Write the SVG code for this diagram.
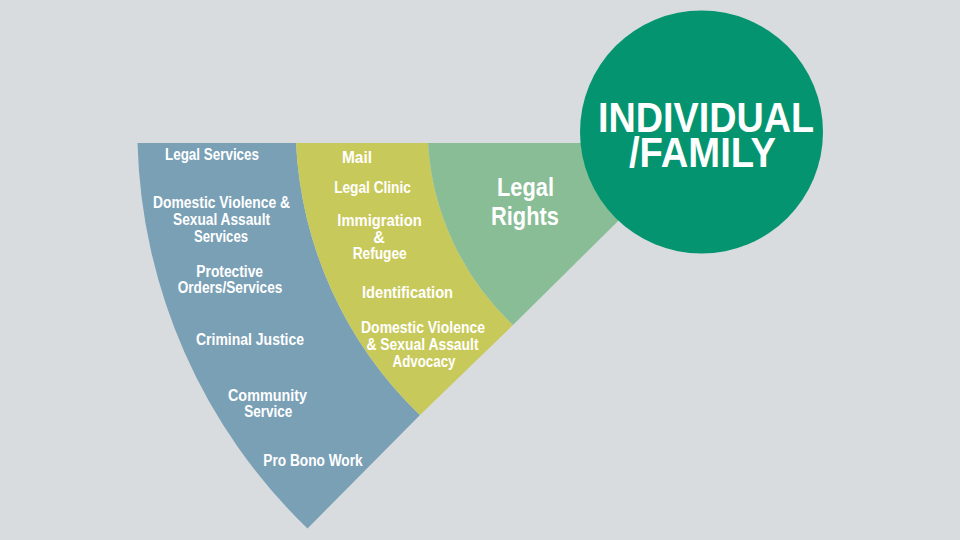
<svg xmlns="http://www.w3.org/2000/svg" width="960" height="540" viewBox="0 0 960 540">
<style>
.t{font-family:"Liberation Sans Narrow","Liberation Sans",Arial,sans-serif;font-weight:bold;fill:#ffffff;text-anchor:middle;font-size:16px}
.g{font-size:25px}
.c{font-family:"Liberation Sans",Arial,sans-serif;font-weight:bold;fill:#ffffff;text-anchor:middle;font-size:43px}
</style>
<rect width="960" height="540" fill="#d9dcdf"/>
<g id="band-legal-services">
<path d="M137.5,143 L296,143 A404,404 0 0 0 420,415 L307.5,528.5 A556,556 0 0 1 137.5,143 Z" fill="#7aa0b6"/>
<text class="t" x="212" y="160" textLength="94" lengthAdjust="spacingAndGlyphs">Legal Services</text>
<text class="t" x="221.5" y="208" textLength="137" lengthAdjust="spacingAndGlyphs">Domestic Violence &amp;</text>
<text class="t" x="221.5" y="225" textLength="97" lengthAdjust="spacingAndGlyphs">Sexual Assault</text>
<text class="t" x="221" y="241.7" textLength="54" lengthAdjust="spacingAndGlyphs">Services</text>
<text class="t" x="229.7" y="276.7" textLength="66.7" lengthAdjust="spacingAndGlyphs">Protective</text>
<text class="t" x="230" y="293.3" textLength="104.7" lengthAdjust="spacingAndGlyphs">Orders/Services</text>
<text class="t" x="250" y="345" textLength="108" lengthAdjust="spacingAndGlyphs">Criminal Justice</text>
<text class="t" x="267.5" y="400.7" textLength="79" lengthAdjust="spacingAndGlyphs">Community</text>
<text class="t" x="268.3" y="417.3" textLength="48" lengthAdjust="spacingAndGlyphs">Service</text>
<text class="t" x="313" y="465.7" textLength="99.3" lengthAdjust="spacingAndGlyphs">Pro Bono Work</text>
</g>
<g id="band-community">
<path d="M296,143 L428,143 A272,272 0 0 0 513,325 L420,415 A404,404 0 0 1 296,143 Z" fill="#c8c95b"/>
<text class="t" x="357" y="163.3" textLength="30" lengthAdjust="spacingAndGlyphs">Mail</text>
<text class="t" x="372.5" y="193.3" textLength="76.7" lengthAdjust="spacingAndGlyphs">Legal Clinic</text>
<text class="t" x="379.5" y="226" textLength="84.3" lengthAdjust="spacingAndGlyphs">Immigration</text>
<text class="t" x="379" y="242.7">&amp;</text>
<text class="t" x="379.7" y="259.3" textLength="54" lengthAdjust="spacingAndGlyphs">Refugee</text>
<text class="t" x="407.5" y="298.3" textLength="91" lengthAdjust="spacingAndGlyphs">Identification</text>
<text class="t" x="423" y="333.3" textLength="124" lengthAdjust="spacingAndGlyphs">Domestic Violence</text>
<text class="t" x="422.5" y="350" textLength="112" lengthAdjust="spacingAndGlyphs">&amp; Sexual Assault</text>
<text class="t" x="424" y="366.7" textLength="63" lengthAdjust="spacingAndGlyphs">Advocacy</text>
</g>
<g id="band-legal-rights">
<path d="M428,143 L697,143 L513,325 A272,272 0 0 1 428,143 Z" fill="#89bd95"/>
<text class="t g" x="525.5" y="196" textLength="57" lengthAdjust="spacingAndGlyphs">Legal</text>
<text class="t g" x="525" y="225" textLength="68" lengthAdjust="spacingAndGlyphs">Rights</text>
</g>
<g id="individual-family">
<circle cx="701.5" cy="132" r="121.5" fill="#049570"/>
<text class="c" x="706" y="132" textLength="216" lengthAdjust="spacingAndGlyphs">INDIVIDUAL</text>
<text class="c" x="702.5" y="167" textLength="147" lengthAdjust="spacingAndGlyphs">/FAMILY</text>
</g>
<g id="connectors"/>
</svg>
